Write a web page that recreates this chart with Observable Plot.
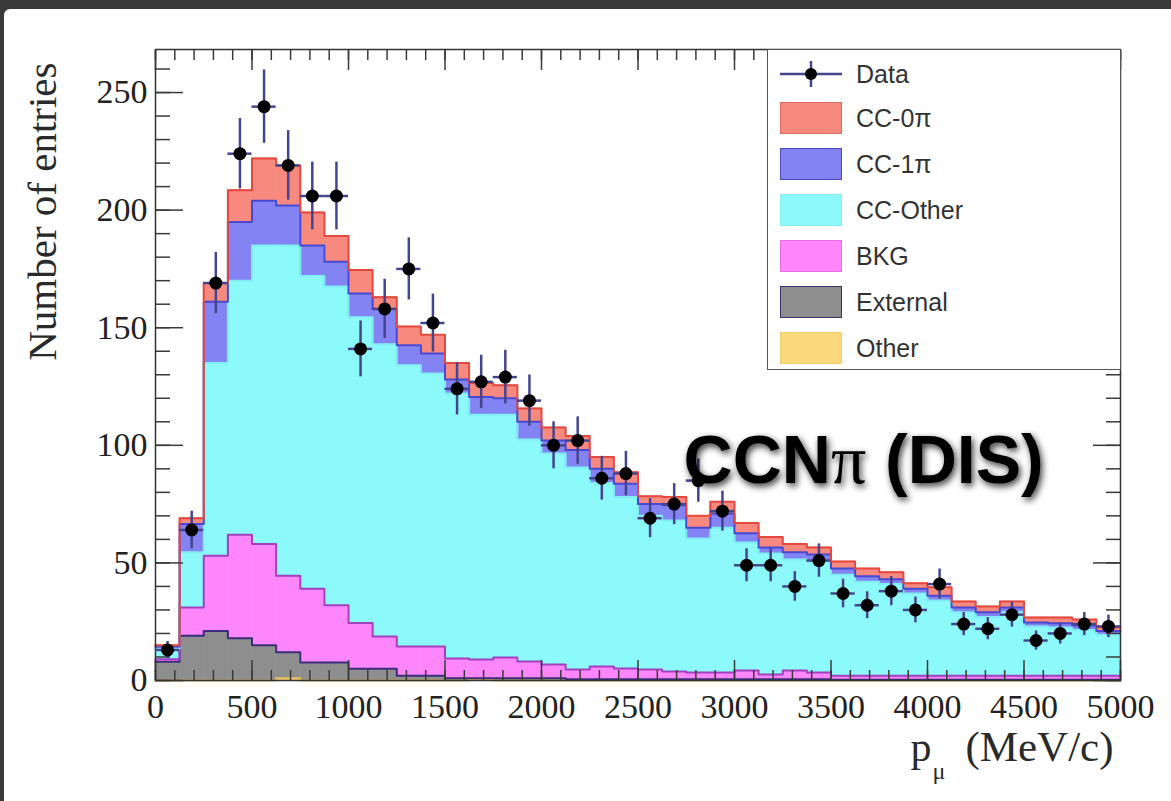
<!DOCTYPE html>
<html>
<head>
<meta charset="utf-8">
<script src="https://cdn.jsdelivr.net/npm/d3@7"></script>
<script src="https://cdn.jsdelivr.net/npm/@observablehq/plot@0.6"></script>
<style>
html, body { margin: 0; padding: 0; }
body { width: 1171px; height: 801px; background: #3a3a3a; position: relative; overflow: hidden; }
#panel { position: absolute; left: 4px; top: 9px; right: 0; bottom: 0; background: #fff; border-top-left-radius: 6px; }
#chart { position: absolute; left: 0; top: 0; }
#legend { position: absolute; left: 767px; top: 49px; width: 354px; height: 321px; box-sizing: border-box;
  border: 1.5px solid #555; background: #fff; font-family: "Liberation Sans", Arial, sans-serif; color: #333; }
.sw { position: absolute; left: 12px; width: 62px; height: 32px; box-sizing: border-box; border: 1.5px solid; }
.lt { position: absolute; left: 88px; font-size: 25px; line-height: 32px; height: 32px; white-space: nowrap; }
</style>
</head>
<body>
<div id="panel"></div>
<div id="chart"></div>
<div id="legend"></div>
<script>
// ---- data ----
const binWidth = 125;                       // MeV/c
const binLow = d3.range(0, 5000, binWidth);  // 40 bins, 0 .. 4875

const other    = [0,0,0,0,0,1,0,0,0,0,0,0,0,0.5,0,0,0,0,0,0,0,0,0,0,0,0,0,0,0,0,0,0,0,0,0,0,0,0,0,0];
const external = [8,19,21,18,15,11,7.7,7.7,5,5,2,2,1,0.5,1,1,1,0.5,0.5,0.5,0.5,0.5,0.5,0.5,0.5,0.5,0.5,0.5,0.3,0.3,0.3,0.3,0.3,0.3,0.3,0.3,0.3,0.3,0.3,0.3];
const bkg      = [1,12,32,44,43,32.5,31.3,24.3,19.5,13.7,12.5,12.5,8.4,7.9,8.8,7.1,5.8,4.2,5.5,4.6,4.2,3.3,2.9,2.9,3.8,2,3.8,2.9,1.7,1.7,1.7,1.7,1.7,1.7,1.7,1.7,1.7,1.7,1.7,1.7];
const ccOther  = [4.5,23.5,82,108,127,140.5,133,135.5,130,124.3,119.5,116,112.6,104.1,103.2,94.4,89.7,85.9,78,72.9,65.3,64.2,57,61.6,54.4,51.5,47.2,47.1,43,40,39,35,32,27,25,27,21,20.5,19.5,17.5];
const cc1pi    = [1,12,26,25,19,17,13,10.5,10,15,8.5,8.5,6,7.5,7,7.5,5.5,7.4,6,5.7,5,6.5,4.6,6,3.9,2.6,3,3.1,2.6,2.3,2,2,2,2,2,2,1.7,1.8,1.9,1.5];
const cc0pi    = [0.5,2.5,8,13.5,18,17,14,11,10,5,8,8,7,6,5.5,5.7,5.6,6,5,4.8,3.3,3.5,5,5,4.4,4.4,3.5,3,3,3.3,3,2.3,3.6,2.6,2.5,2.6,2.1,2.5,2.5,1.6];

const dataCounts = [13,64,169,224,244,219,206,206,141,158,175,152,124,127,129,119,100,102,86,88,69,75,85,72,49,49,40,51,37,32,38,30,41,24,22,28,17,20,24,23];
const dataErr    = [3.6,8,13,15,15.6,14.8,14.4,14.4,11.9,12.6,13.2,12.3,11.1,11.3,11.4,10.9,10,10.1,9.3,9.4,8.3,8.7,9.2,8.5,7,7,6.3,7.1,6.1,5.7,6.2,5.5,6.4,4.9,4.7,5.3,4.1,4.5,4.9,4.8];

// stack order, bottom -> top
const stackOrder = ["Other", "External", "BKG", "CC-Other", "CC-1π", "CC-0π"];
const layerValues = {"Other": other, "External": external, "BKG": bkg, "CC-Other": ccOther, "CC-1π": cc1pi, "CC-0π": cc0pi};
const layerFill = {"Other": "#fcd87c", "External": "#8e8e8e", "BKG": "#fd86fb", "CC-Other": "#8cfafa", "CC-1π": "#8383f4", "CC-0π": "#f8897f"};
const layerLine = {"Other": "#e8c060", "External": "#3c2c7c", "BKG": "#a040c0", "CC-Other": "#80eef4", "CC-1π": "#4848d0", "CC-0π": "#e4493f"};
const layerBorder = {"Other": "#f0d070", "External": "#34346a", "BKG": "#e070e0", "CC-Other": "#88eeee", "CC-1π": "#4a4ab8", "CC-0π": "#d86a62"};
const legendOrder = ["CC-0π", "CC-1π", "CC-Other", "BKG", "External", "Other"];

const xTicksMajor = d3.range(0, 5001, 500);
const xTicksMinor = d3.range(0, 5001, 100);
const yTicksMajor = d3.range(0, 251, 50);
const yTicksMinor = d3.range(0, 261, 10);

const annotation = {label: "CCNπ (DIS)", x: 2736, y: 84};

// ---- tables for Plot ----
const histRows = [];
const lineRows = [];
for (const layer of stackOrder) {
  const vals = layerValues[layer];
  binLow.forEach((x1, i) => {
    const r = {layer, x1, x2: x1 + binWidth, v: vals[i], fill: layerFill[layer], line: layerLine[layer]};
    histRows.push(r);
    lineRows.push(r);
  });
  lineRows.push({layer, x1: 5000, x2: 5000, v: vals[vals.length - 1], fill: layerFill[layer], line: layerLine[layer]});
}
const points = binLow.map((x1, i) => ({
  x1, x2: x1 + binWidth, xc: x1 + binWidth / 2,
  n: dataCounts[i], lo: dataCounts[i] - dataErr[i], hi: dataCounts[i] + dataErr[i]
}));

const tickStroke = "#3a3a3a";
const errColor = "#45458e";
const plain = d => `${d}`;

const chart = Plot.plot({
  width: 1171, height: 801,
  marginLeft: 155, marginRight: 51, marginTop: 49, marginBottom: 121,
  x: {domain: [0, 5000]},
  y: {domain: [0, 268.3]},
  color: {type: "identity"},
  style: {background: "transparent", fontFamily: "'Liberation Serif', 'Times New Roman', serif", overflow: "visible"},
  marks: [
    Plot.rectY(histRows, {x1: "x1", x2: "x2", y: "v", z: "layer", fill: "fill", stroke: "fill", strokeWidth: 0.6, order: stackOrder}),
    Plot.lineY(lineRows, Plot.stackY2({x: "x1", y: "v", z: "layer", order: stackOrder, stroke: "line", strokeWidth: 2, curve: "step-after"})),
    // tick labels
    Plot.axisX(xTicksMajor, {anchor: "bottom", tickSize: 0, tickPadding: 13, fontSize: 34, color: "#222", label: null, tickFormat: plain}),
    Plot.axisY(yTicksMajor, {anchor: "left", tickSize: 0, tickPadding: 8, fontSize: 34, color: "#222", label: null, tickFormat: plain}),
    // inward ticks on all four sides
    Plot.axisX(xTicksMinor, {anchor: "bottom", tickSize: -10, fill: "none", stroke: tickStroke, strokeWidth: 1.5, label: null}),
    Plot.axisX(xTicksMajor, {anchor: "bottom", tickSize: -20, fill: "none", stroke: tickStroke, strokeWidth: 1.5, label: null}),
    Plot.axisX(xTicksMinor, {anchor: "top", tickSize: -10, fill: "none", stroke: tickStroke, strokeWidth: 1.5, label: null}),
    Plot.axisX(xTicksMajor, {anchor: "top", tickSize: -20, fill: "none", stroke: tickStroke, strokeWidth: 1.5, label: null}),
    Plot.axisY(yTicksMinor, {anchor: "left", tickSize: -15, fill: "none", stroke: tickStroke, strokeWidth: 1.5, label: null}),
    Plot.axisY(yTicksMajor, {anchor: "left", tickSize: -28, fill: "none", stroke: tickStroke, strokeWidth: 1.5, label: null}),
    Plot.axisY(yTicksMinor, {anchor: "right", tickSize: -15, fill: "none", stroke: tickStroke, strokeWidth: 1.5, label: null}),
    Plot.axisY(yTicksMajor, {anchor: "right", tickSize: -28, fill: "none", stroke: tickStroke, strokeWidth: 1.5, label: null}),
    Plot.frame({stroke: "#333", strokeWidth: 1.5}),
    // axis titles
    Plot.text(["Number of entries"], {frameAnchor: "top-left", rotate: -90, textAnchor: "end", lineAnchor: "middle",
      dx: -113, dy: 13, fontSize: 41, fill: "#2a2a2a"}),
    Plot.text(["p"], {frameAnchor: "bottom-right", textAnchor: "start", lineAnchor: "bottom", dx: -210, dy: 80, fontSize: 42, fill: "#2a2a2a"}),
    Plot.text(["μ"], {frameAnchor: "bottom-right", textAnchor: "start", lineAnchor: "bottom", dx: -188, dy: 98, fontSize: 24, fill: "#2a2a2a"}),
    Plot.text(["(MeV/c)"], {frameAnchor: "bottom-right", textAnchor: "end", lineAnchor: "bottom", dx: -7, dy: 80, fontSize: 43, fill: "#2a2a2a"}),
    // data with errors
    Plot.ruleX(points, {x: "xc", y1: "lo", y2: "hi", stroke: errColor, strokeWidth: 2.5}),
    Plot.ruleY(points, {y: "n", x1: "x1", x2: "x2", stroke: errColor, strokeWidth: 2.5}),
    Plot.dot(points, {x: "xc", y: "n", r: 6.5, fill: "#000"}),
    // annotation
    Plot.text([annotation], {x: "x", y: "y", text: "label", textAnchor: "start", lineAnchor: "bottom",
      fontSize: 68, fontWeight: "bold", fontFamily: "'Liberation Sans', Arial, sans-serif", fill: "#000", className: "ann"})
  ]
});
document.getElementById("chart").appendChild(chart);

// glow filter + serif pi for the annotation
const svg = d3.select(chart.tagName.toLowerCase() === "svg" ? chart : chart.querySelector("svg"));
svg.insert("defs", ":first-child").html(
  '<filter id="glow" x="-10%" y="-40%" width="125%" height="180%">' +
  '<feGaussianBlur in="SourceAlpha" stdDeviation="3.5"/><feOffset dx="1.5" dy="2.5"/>' +
  '<feComponentTransfer><feFuncA type="linear" slope="0.8"/></feComponentTransfer>' +
  '<feMerge><feMergeNode/><feMergeNode in="SourceGraphic"/></feMerge></filter>');
svg.selectAll("g.ann text").each(function () {
  const t = d3.select(this);
  const parts = t.text().split("π");
  t.text(null);
  t.append("tspan").text(parts[0]);
  t.append("tspan").attr("font-family", "'Liberation Serif', serif").attr("font-weight", "normal").attr("font-size", 70).text("π");
  t.append("tspan").text(parts[1]);
  t.attr("filter", "url(#glow)");
});

// ---- legend ----
const legend = d3.select("#legend");
const dataRow = legend.append("svg").attr("width", 64).attr("height", 32)
  .style("position", "absolute").style("left", "12px").style("top", "8px");
dataRow.append("line").attr("x1", 0).attr("x2", 62).attr("y1", 16).attr("y2", 16).attr("stroke", errColor).attr("stroke-width", 2.5);
dataRow.append("line").attr("x1", 31).attr("x2", 31).attr("y1", 3).attr("y2", 29).attr("stroke", errColor).attr("stroke-width", 2.5);
dataRow.append("circle").attr("cx", 31).attr("cy", 16).attr("r", 6).attr("fill", "#000");
legend.append("div").attr("class", "lt").style("top", "8px").text("Data");
legendOrder.forEach((name, i) => {
  const top = 52 + i * 46;
  legend.append("div").attr("class", "sw").style("top", top + "px")
    .style("background", layerFill[name]).style("border-color", layerBorder[name]);
  legend.append("div").attr("class", "lt").style("top", top + "px").text(name);
});
</script>
</body>
</html>
